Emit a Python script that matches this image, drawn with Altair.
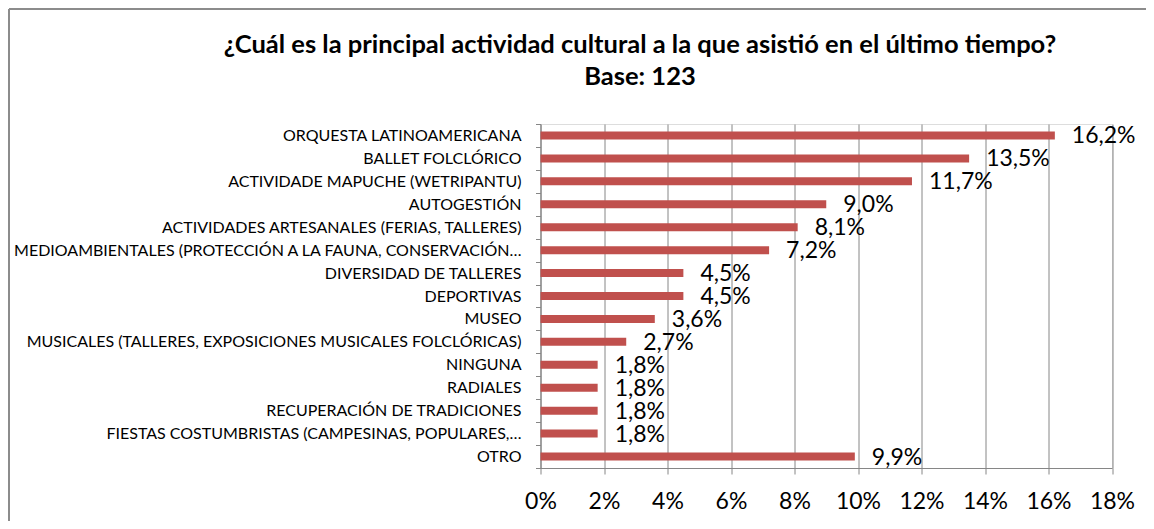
import altair as alt
import pandas as pd

categories = [
    "ORQUESTA LATINOAMERICANA",
    "BALLET FOLCLÓRICO",
    "ACTIVIDADE MAPUCHE (WETRIPANTU)",
    "AUTOGESTIÓN",
    "ACTIVIDADES ARTESANALES (FERIAS, TALLERES)",
    "MEDIOAMBIENTALES (PROTECCIÓN A LA FAUNA, CONSERVACIÓN…",
    "DIVERSIDAD DE TALLERES",
    "DEPORTIVAS",
    "MUSEO",
    "MUSICALES (TALLERES, EXPOSICIONES MUSICALES FOLCLÓRICAS)",
    "NINGUNA",
    "RADIALES",
    "RECUPERACIÓN DE TRADICIONES",
    "FIESTAS COSTUMBRISTAS (CAMPESINAS, POPULARES,…",
    "OTRO",
]
values = [16.2, 13.5, 11.7, 9.0, 8.1, 7.2, 4.5, 4.5, 3.6, 2.7, 1.8, 1.8, 1.8, 1.8, 9.9]
x_ticks = [0, 2, 4, 6, 8, 10, 12, 14, 16, 18]
title_line1 = "¿Cuál es la principal actividad cultural a la que asistió en el último tiempo?"
title_line2 = "Base: 123"

df = pd.DataFrame({"cat": categories, "val": values})

W, H = 571.5, 344
PADL, PADT = 532.5, 116
TOTAL_W, TOTAL_H = 1138, 513
GRAY = "#868686"
FONT = "Lato"

y_enc = alt.Y(
    "cat:N",
    sort=categories,
    scale=alt.Scale(paddingInner=0, paddingOuter=0),
    axis=alt.Axis(
        title=None,
        tickBand="extent",
        tickSize=5,
        tickColor=GRAY,
        domainColor=GRAY,
        domainWidth=1,
        labelPadding=14.5,
        labelFont=FONT,
        labelFontSize=16,
        labelColor="black",
        labelLimit=700,
        labelOverlap=False,
        grid=False,
    ),
)

x_enc = alt.X(
    "val:Q",
    scale=alt.Scale(domain=[0, 18], nice=False, zero=True),
    axis=alt.Axis(
        title=None,
        values=x_ticks,
        labelExpr="datum.value + '%'",
        labelOverlap=False,
        labelFlush=False,
        grid=True,
        gridColor=GRAY,
        gridWidth=1,
        gridOpacity=1,
        domainColor=GRAY,
        tickColor=GRAY,
        tickSize=6,
        labelFont=FONT,
        labelFontSize=23,
        labelColor="black",
        labelPadding=16.5,
    ),
)

bars = alt.Chart(df).mark_bar(size=8, color="#C0504D").encode(x=x_enc, y=y_enc)

labels = (
    alt.Chart(df)
    .transform_calculate(lbl="replace(format(datum.val, '.1f'), '.', ',') + '%'")
    .mark_text(align="left", baseline="middle", dx=17, dy=1, font=FONT, fontSize=23, color="black")
    .encode(x="val:Q", y=alt.Y("cat:N", sort=categories), text="lbl:N")
)

one = alt.Data(values=[{}])
border_top = (
    alt.Chart(one)
    .mark_rule(color="#8c8c8c", strokeWidth=2)
    .encode(x=alt.value(1 - PADL), x2=alt.value(TOTAL_W - PADL), y=alt.value(1 - PADT))
)
border_left = (
    alt.Chart(one)
    .mark_rule(color="#8c8c8c", strokeWidth=2)
    .encode(x=alt.value(1 - PADL), y=alt.value(1 - PADT), y2=alt.value(TOTAL_H - PADT))
)

title1 = (
    alt.Chart(one)
    .mark_text(text=title_line1, font=FONT, fontSize=25.5, fontWeight="bold", color="black",
               align="center", baseline="middle")
    .encode(x=alt.value(640 - 8 - PADL), y=alt.value(45 - 8 - PADT))
)
title2 = (
    alt.Chart(one)
    .mark_text(text=title_line2, font=FONT, fontSize=25.5, fontWeight="bold", color="black",
               align="center", baseline="middle")
    .encode(x=alt.value(640 - 8 - PADL), y=alt.value(77 - 8 - PADT))
)

chart = (
    alt.layer(border_top, border_left, bars, labels, title1, title2)
    .properties(
        width=W,
        height=H,
        autosize=alt.AutoSizeParams(type="none"),
        padding={"left": PADL, "top": PADT, "right": TOTAL_W - PADL - W, "bottom": TOTAL_H - PADT - H},
    )
    .configure_view(stroke=None)
    .configure(background="white")
)

chart.save("out.html", embed_options={"renderer": "svg", "actions": False})
